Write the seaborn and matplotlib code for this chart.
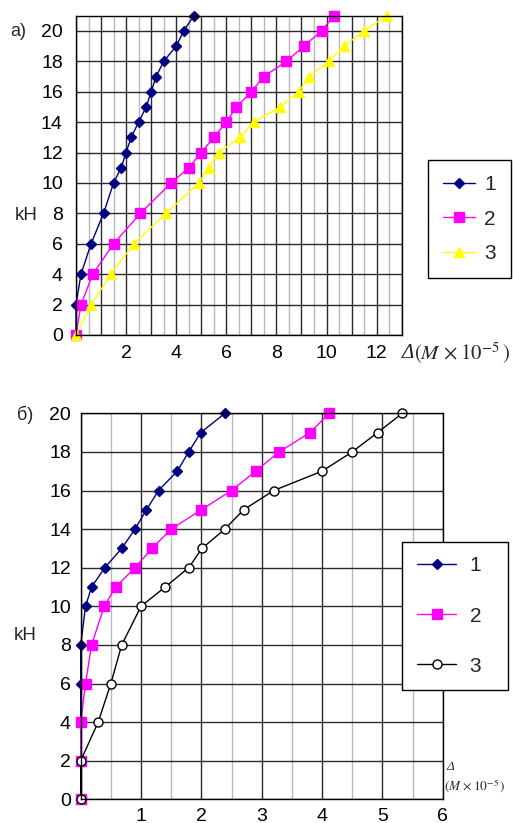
import matplotlib
matplotlib.use("Agg")
import matplotlib.pyplot as plt
import seaborn as sns
from matplotlib.ticker import MultipleLocator, FuncFormatter

# chart a): load (kH) vs displacement (M x 1e-5)
load_a = [0, 2, 4, 6, 8, 10, 11, 12, 13, 14, 15, 16, 17, 18, 19, 20, 21]
a1 = [0, 0, 0.2, 0.6, 1.1, 1.5, 1.8, 2.0, 2.2, 2.5, 2.8, 3.0, 3.2, 3.5, 4.0, 4.3, 4.7]
a2 = [0, 0.2, 0.67, 1.5, 2.57, 3.8, 4.5, 5.0, 5.5, 6.0, 6.4, 7.0, 7.5, 8.4, 9.1, 9.8, 10.3]
a3 = [0, 0.6, 1.4, 2.3, 3.6, 4.9, 5.3, 5.7, 6.55, 7.1, 8.15, 8.9, 9.3, 10.1, 10.7, 11.5, 12.4]

# chart б)
load_b = [0, 2, 4, 6, 8, 10, 11, 12, 13, 14, 15, 16, 17, 18, 19, 20]
b1 = [0, 0, 0, 0, 0, 0.08, 0.18, 0.4, 0.68, 0.9, 1.09, 1.29, 1.6, 1.79, 1.99, 2.39]
b2 = [0, 0, 0, 0.08, 0.18, 0.39, 0.58, 0.9, 1.18, 1.5, 2.0, 2.5, 2.9, 3.29, 3.8, 4.12]
b3 = [0, 0, 0.29, 0.5, 0.68, 1.0, 1.4, 1.79, 2.01, 2.39, 2.7, 3.2, 4.0, 4.5, 4.92, 5.33]

sns.set_theme(style="white")
plt.rcParams["font.family"] = ["Liberation Sans", "DejaVu Sans"]
plt.rcParams["mathtext.fontset"] = "stix"
SERIF = ["Liberation Serif", "DejaVu Serif"]

W, H = 513, 823
fig = plt.figure(figsize=(W / 100, H / 100), dpi=100)
ax1 = fig.add_axes([76 / W, 1 - 335 / H, (401.7 - 76) / W, (335 - 15.7) / H])
ax2 = fig.add_axes([80.7 / W, 1 - 799.3 / H, (442.7 - 80.7) / W, (799.3 - 413.3) / H])


def style_axes(ax, xmax, ymax, xfmt, xpad, ypad):
    ax.set_xlim(0, xmax)
    ax.set_ylim(0, ymax)
    ax.xaxis.set_major_locator(MultipleLocator(1))
    ax.xaxis.set_minor_locator(MultipleLocator(0.5))
    ax.yaxis.set_major_locator(MultipleLocator(2))
    ax.xaxis.set_major_formatter(FuncFormatter(xfmt))
    ax.set_axisbelow(True)
    ax.grid(which="major", color="#2a2a2a", lw=1.0)
    ax.grid(which="minor", axis="x", color="#b8b8b8", lw=1.0)
    ax.tick_params(which="major", direction="out", length=3, width=1, color="black",
                   labelsize=14, labelcolor="black")
    ax.tick_params(which="minor", length=0)
    ax.tick_params(axis="x", pad=xpad)
    ax.tick_params(axis="y", pad=ypad)
    for s in ax.spines.values():
        s.set_color("black")
        s.set_linewidth(1)
    ax.set_xlabel("")
    ax.set_ylabel("")


def plot_series(ax, x, y, label, color, marker, ms, mfc=None, mec=None):
    sns.lineplot(x=x, y=y, ax=ax, estimator=None, sort=False, color=color, lw=1.0,
                 marker=marker, markersize=ms, markerfacecolor=mfc or color,
                 markeredgecolor=mec or color, markeredgewidth=1, clip_on=False,
                 label=label)


# --- chart a)
plot_series(ax1, a1, load_a, "1", "#000080", "D", 5.0)
plot_series(ax1, a2, load_a, "2", "#FF00FF", "s", 6.5)
plot_series(ax1, a3, load_a, "3", "#FFFF00", "^", 7.5)
style_axes(ax1, 13, 21,
           lambda v, p: f"{int(round(v))}" if v > 0.5 and round(v) % 2 == 0 else "",
           4.5, 6.5)
leg1 = ax1.legend(loc="upper left", bbox_to_anchor=(428.3 / W, 1 - 160 / H),
                  bbox_transform=fig.transFigure, fontsize=15, frameon=True,
                  fancybox=False, framealpha=1, edgecolor="black", borderpad=0.72,
                  labelspacing=0.75, handlelength=1.5, handletextpad=0.45,
                  borderaxespad=0)
leg1.get_frame().set_linewidth(1)

fig.text(10 / W, 1 - 32 / H, "a)", fontsize=13, va="center", ha="left")
fig.text(15 / W, 1 - 216 / H, "kH", fontsize=13.5, va="center", ha="left")
fig.text(402 / W, 1 - 354 / H, "Δ", fontsize=15, va="center", ha="left",
         family=SERIF, style="italic")
fig.text(414 / W, 1 - 353 / H, r"$(\mathit{M}\,\times10^{-5}\,)$",
         fontsize=15, va="center", ha="left")

# --- chart б)
plot_series(ax2, b1, load_b, "1", "#000080", "D", 5.2)
plot_series(ax2, b2, load_b, "2", "#FF00FF", "s", 6.5)
plot_series(ax2, b3, load_b, "3", "black", "o", 6.5, mfc="white", mec="black")
style_axes(ax2, 6, 20, lambda v, p: f"{int(round(v))}" if v > 0.5 else "", 3, 4)
leg2 = ax2.legend(labels=["1  ", "2  ", "3  "], loc="upper left",
                  bbox_to_anchor=(402.3 / W, 1 - 541.7 / H),
                  bbox_transform=fig.transFigure, fontsize=15, frameon=True,
                  fancybox=False, framealpha=1, edgecolor="black", borderpad=0.7,
                  labelspacing=1.5, handlelength=1.9, handletextpad=0.65,
                  borderaxespad=0)
leg2.get_frame().set_linewidth(1)

fig.text(17 / W, 1 - 415 / H, "б)", fontsize=13, va="center", ha="left")
fig.text(14 / W, 1 - 635 / H, "kH", fontsize=13.5, va="center", ha="left")
fig.text(446 / W, 1 - 767 / H, "Δ", fontsize=9.5, va="center", ha="left",
         family=SERIF, style="italic")
fig.text(444 / W, 1 - 786 / H, r"$(\mathit{M}\,\times10^{-5}\,)$", fontsize=9.5,
         va="center", ha="left")

fig.savefig("out.png", dpi=100)
